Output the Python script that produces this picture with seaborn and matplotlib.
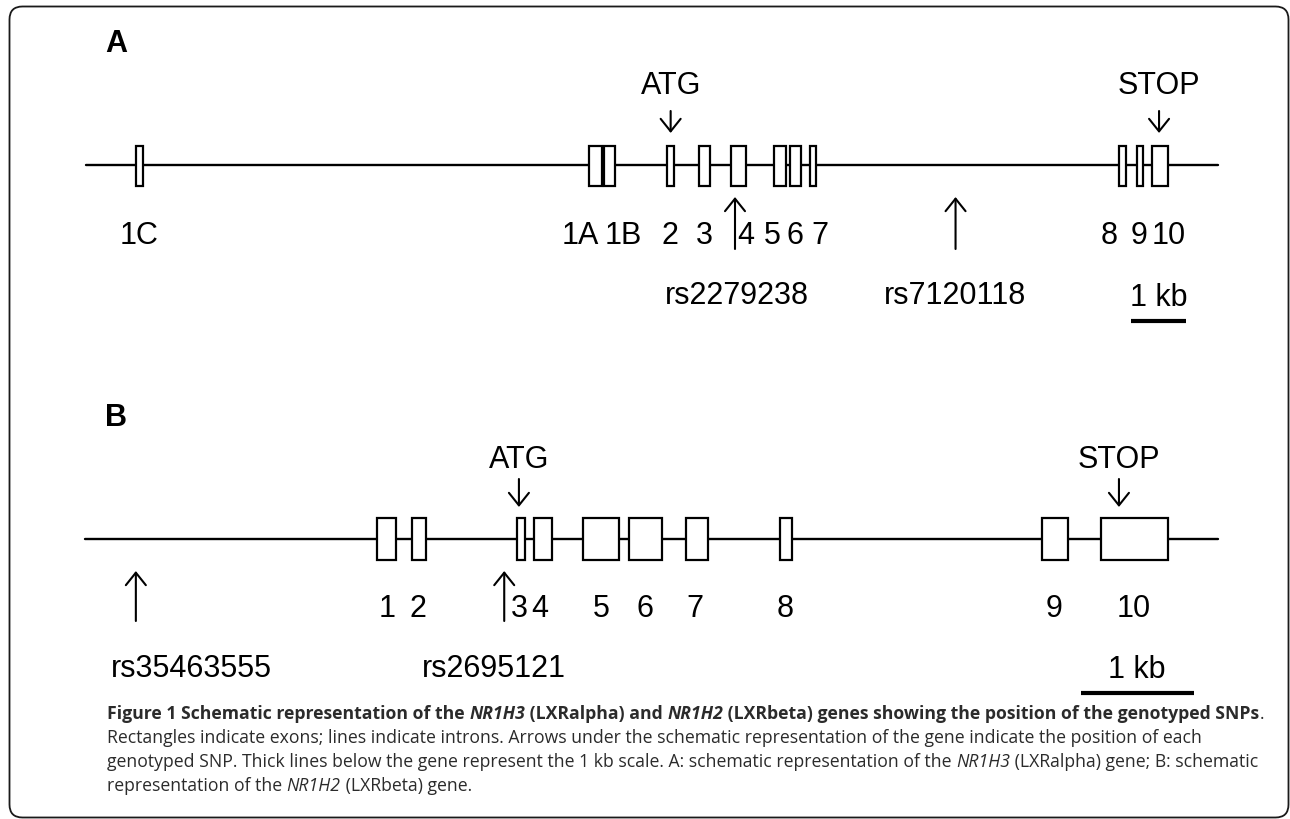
import matplotlib
matplotlib.use("Agg")
import matplotlib.pyplot as plt
from matplotlib import font_manager
from matplotlib.patches import FancyBboxPatch
import seaborn as sns
import pandas as pd

# ---------------- data (positions in kb from the left end of each drawn region) -------------
# Panel A: NR1H3 (LXRalpha)
a_exon_names = ["1C", "1A", "1B", "2", "3", "4", "5", "6", "7", "8", "9", "10"]
a_exon_start = [0.91, 9.15, 9.42, 10.56, 11.15, 11.73, 12.51, 12.80, 13.16, 18.78, 19.11, 19.38]
a_exon_end = [1.04, 9.38, 9.62, 10.69, 11.35, 12.00, 12.73, 13.00, 13.27, 18.91, 19.22, 19.67]
a_label_pos = [0.96, 8.98, 9.76, 10.62, 11.24, 12.00, 12.47, 12.89, 13.35, 18.60, 19.15, 19.69]
a_gene_span = [0.0, 20.58]
a_atg = 10.63
a_stop = 19.51
a_snp_names = ["rs2279238", "rs7120118"]
a_snp_pos = [11.80, 15.81]
a_snp_label_pos = [11.84, 15.80]
a_scale = [19.0, 20.0]

# Panel B: NR1H2 (LXRbeta)
b_exon_names = ["1", "2", "3", "4", "5", "6", "7", "8", "9", "10"]
b_exon_start = [2.58, 2.89, 3.82, 3.97, 4.41, 4.81, 5.32, 6.15, 8.47, 8.99]
b_exon_end = [2.75, 3.02, 3.89, 4.13, 4.73, 5.11, 5.51, 6.26, 8.70, 9.58]
b_label_pos = [2.67, 2.95, 3.84, 4.02, 4.57, 4.96, 5.40, 6.20, 8.58, 9.28]
b_gene_span = [0.0, 10.03]
b_atg = 3.84
b_stop = 9.15
b_snp_names = ["rs35463555", "rs2695121"]
b_snp_pos = [0.45, 3.71]
b_snp_label_pos = [0.94, 3.62]
b_scale = [8.81, 9.81]

caption_lines = [
    [("Figure 1 Schematic representation of the ", "normal", "bold"),
     ("NR1H3", "italic", "bold"),
     (" (LXRalpha) and ", "normal", "bold"),
     ("NR1H2", "italic", "bold"),
     (" (LXRbeta) genes showing the position of the genotyped SNPs", "normal", "bold"),
     (".", "normal", "normal")],
    [("Rectangles indicate exons; lines indicate introns. Arrows under the schematic "
      "representation of the gene indicate the position of each", "normal", "normal")],
    [("genotyped SNP. Thick lines below the gene represent the 1 kb scale. A: schematic "
      "representation of the ", "normal", "normal"),
     ("NR1H3", "italic", "normal"),
     (" (LXRalpha) gene; B: schematic", "normal", "normal")],
    [("representation of the ", "normal", "normal"),
     ("NR1H2", "italic", "normal"),
     (" (LXRbeta) gene.", "normal", "normal")],
]

# ---------------- style ----------------
sns.set_theme(style="white")
plt.rcParams['font.family'] = ['Liberation Sans', 'DejaVu Sans']
plt.rcParams['text.color'] = 'black'

available = {f.name for f in font_manager.fontManager.ttflist}
CAP_FONT = next((f for f in ["Open Sans", "Noto Sans", "Lato", "DejaVu Sans"] if f in available), "DejaVu Sans")

W, H = 1290, 820
fig = plt.figure(figsize=(W / 100, H / 100), dpi=100)
fig.patch.set_facecolor("white")

bg = fig.add_axes([0, 0, 1, 1], label="bg")
bg.set_xlim(0, W)
bg.set_ylim(H, 0)
bg.axis("off")
bg.add_patch(FancyBboxPatch((9.5, 7.5), 1279, 811,
                            boxstyle="round,pad=0,rounding_size=13",
                            fill=False, lw=1.3, ec="#1a1a1a"))

TXT = 22
ARROW = dict(arrowstyle="->,head_length=0.45,head_width=0.36", lw=1.5,
             color="black", shrinkA=0, shrinkB=0, mutation_scale=20)


def gene_panel(name, origin_px, px_per_kb, line_y, exon_top, exon_h,
               names, starts, ends, label_pos, span, atg, stop,
               snp_names, snp_pos, snp_label_pos, scale,
               letter_y, atg_base, lab_base, snp_tip, snp_tail, snp_base,
               kb_base, scale_y, head_tail, head_tip):
    ax = fig.add_axes([0, 0, 1, 1], label=name)
    ax.patch.set_alpha(0)
    # intron line
    df = pd.DataFrame({"kb": span, "y": [line_y, line_y]})
    sns.lineplot(data=df, x="kb", y="y", ax=ax, color="black", lw=1.7, sort=False)
    # exons
    widths = [e - s for s, e in zip(starts, ends)]
    ax.bar(starts, [exon_h] * len(starts), width=widths, bottom=exon_top,
           align="edge", facecolor="white", edgecolor="black", linewidth=1.6, zorder=3)
    # exon labels
    for n, p in zip(names, label_pos):
        ax.text(p, lab_base, n, ha="center", va="baseline", fontsize=TXT, color="black")
    # ATG / STOP
    for lab, p in (("ATG", atg), ("STOP", stop)):
        ax.annotate("", xy=(p, head_tip), xytext=(p, head_tail), arrowprops=ARROW)
        ax.text(p, atg_base, lab, ha="center", va="baseline", fontsize=TXT, color="black")
    # SNPs
    for n, p, lp in zip(snp_names, snp_pos, snp_label_pos):
        ax.annotate("", xy=(p, snp_tip), xytext=(p, snp_tail), arrowprops=ARROW)
        ax.text(lp, snp_base, n, ha="center", va="baseline", fontsize=TXT, color="black")
    # scale bar
    ax.plot(scale, [scale_y, scale_y], color="black", lw=3, solid_capstyle="butt")
    ax.text(sum(scale) / 2, kb_base, "1 kb", ha="center", va="baseline", fontsize=TXT,
            color="black")
    # panel letter
    ax.text(-origin_px / px_per_kb + 105 / px_per_kb, letter_y, name, ha="left",
            va="baseline", fontsize=TXT, fontweight="bold", color="black")
    ax.set_xlim(-origin_px / px_per_kb, (W - origin_px) / px_per_kb)
    ax.set_ylim(H, 0)
    ax.axis("off")
    return ax


gene_panel("A", 86, 55, 166, 147, 40,
           a_exon_names, a_exon_start, a_exon_end, a_label_pos, a_gene_span, a_atg, a_stop,
           a_snp_names, a_snp_pos, a_snp_label_pos, a_scale,
           letter_y=52, atg_base=94, lab_base=244, snp_tip=198, snp_tail=250, snp_base=304,
           kb_base=306, scale_y=322, head_tail=112, head_tip=134)

gene_panel("B", 85, 113, 540, 519, 42,
           b_exon_names, b_exon_start, b_exon_end, b_label_pos, b_gene_span, b_atg, b_stop,
           b_snp_names, b_snp_pos, b_snp_label_pos, b_scale,
           letter_y=426, atg_base=468, lab_base=617, snp_tip=572, snp_tail=622, snp_base=677,
           kb_base=678, scale_y=694, head_tail=480, head_tip=508)

# ---------------- caption ----------------
renderer = fig.canvas.get_renderer()


def line_width(segments, size):
    total = 0
    for txt, style, weight in segments:
        t = fig.text(0, 0, txt, fontsize=size, fontstyle=style, fontweight=weight,
                     family=[CAP_FONT, "DejaVu Sans"])
        total += t.get_window_extent(renderer).width
        t.remove()
    return total


cap_size = 10 * 1161 / line_width(caption_lines[0], 10)
baselines = [719, 743, 767, 791]
for segs, yb in zip(caption_lines, baselines):
    x = 107
    for txt, style, weight in segs:
        t = fig.text(x / W, 1 - yb / H, txt, fontsize=cap_size, fontstyle=style,
                     fontweight=weight, family=[CAP_FONT, "DejaVu Sans"],
                     color="#2b2b2b", ha="left", va="baseline")
        x += t.get_window_extent(renderer).width

fig.savefig("out.png", dpi=100, facecolor="white")
